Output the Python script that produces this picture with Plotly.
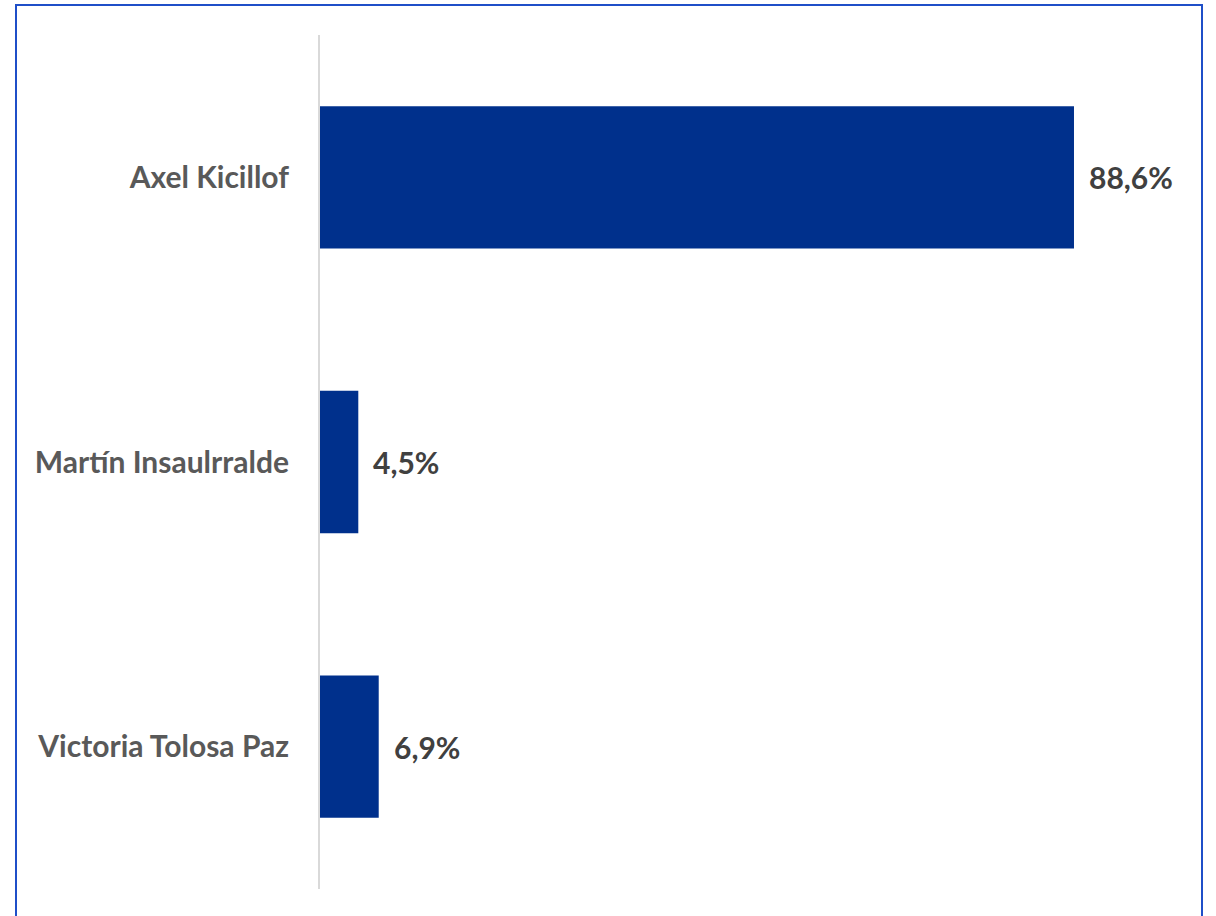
import plotly.graph_objects as go

candidates = ["Axel Kicillof", "Martín Insaulrralde", "Victoria Tolosa Paz"]
values = [88.6, 4.5, 6.9]

W, H = 1216, 916
L, T = 320, 35
B = 916 - 889
R = 45
pw, ph = W - L - R, H - T - B

fig = go.Figure(go.Bar(
    x=values, y=candidates, orientation="h",
    marker=dict(color="#00308C", line=dict(width=0)),
    width=0.5, hoverinfo="skip",
))

for c, v in zip(candidates, values):
    fig.add_annotation(
        x=v, y=c, xref="x", yref="y",
        text=f"{v:.1f}".replace(".", ",") + "%",
        showarrow=False, xanchor="left", xshift=13,
        font=dict(family="Lato", size=30, color="#404040", weight="bold"),
    )

def px_x(p):
    return (p - L) / pw

def px_y(p):
    return 1 - (p - T) / ph

fig.add_shape(
    type="rect", xref="paper", yref="paper",
    x0=px_x(16), x1=px_x(1202), y0=px_y(940), y1=px_y(5),
    line=dict(color="#1F4FC8", width=2), fillcolor="rgba(0,0,0,0)", layer="above",
)

fig.update_layout(
    width=W, height=H,
    margin=dict(l=L, r=R, t=T, b=B),
    paper_bgcolor="white", plot_bgcolor="white",
    showlegend=False,
    xaxis=dict(range=[0, 100], visible=False, fixedrange=True),
    yaxis=dict(
        autorange="reversed", showgrid=False, zeroline=False,
        showline=True, linecolor="#D9D9D9", linewidth=2,
        ticks="", ticklabelstandoff=23, fixedrange=True,
        tickfont=dict(family="Lato", size=30, color="#595959", weight="bold"),
    ),
    bargap=0.5,
)

fig.write_html(
    "out.html",
    config={"displayModeBar": False},
    post_script="document.body.style.margin='0';document.body.style.overflow='hidden';",
)
